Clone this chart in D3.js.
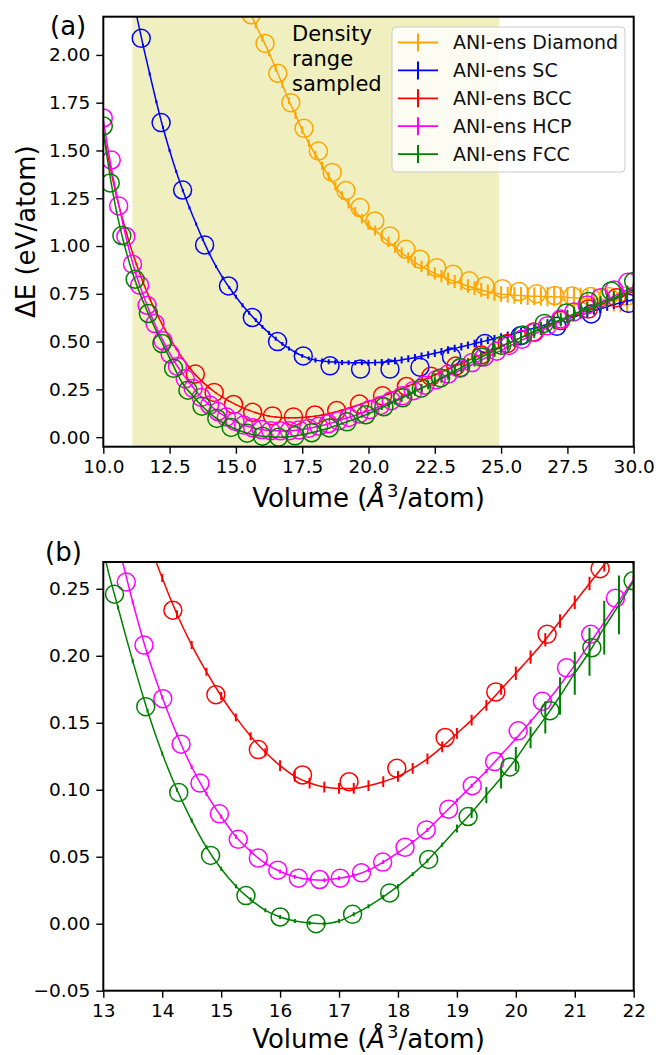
<!DOCTYPE html>
<html>
<head>
<meta charset="utf-8">
<script src="https://cdn.jsdelivr.net/npm/d3@7"></script>
<style>
  body { margin: 0; background: #fff; }
  svg { display: block; }
</style>
</head>
<body>
<div id="chart"></div>
<script>
// E(V) curves of carbon phases: ANI ensemble (line + error bars) vs reference (circles)

// volume grid of the ANI-ens predictions (A^3/atom)
const volumes = [10, 10.25, 10.5, 10.75, 11, 11.25, 11.5, 11.75, 12, 12.25, 12.5, 12.75,
  13, 13.25, 13.5, 13.75, 14, 14.25, 14.5, 14.75, 15, 15.25, 15.5, 15.75, 16, 16.25, 16.5, 16.75,
  17, 17.25, 17.5, 17.75, 18, 18.25, 18.5, 18.75, 19, 19.25, 19.5, 19.75, 20, 20.25, 20.5, 20.75,
  21, 21.25, 21.5, 21.75, 22, 22.25, 22.5, 22.75, 23, 23.25, 23.5, 23.75, 24, 24.25, 24.5, 24.75,
  25, 25.25, 25.5, 25.75, 26, 26.25, 26.5, 26.75, 27, 27.25, 27.5, 27.75, 28, 28.25, 28.5, 28.75,
  29, 29.25, 29.5, 29.75, 30];

// ANI-ens mean energies (eV/atom) on the grid above
const diamondEnergy = [null, null, null, null, null, null, null, null, null, null, null, null,
  null, null, null, null, 2.81, 2.70, 2.60, 2.50, 2.41, 2.32, 2.235, 2.155, 2.085, 2.01, 1.93, 1.845,
  1.76, 1.685, 1.607, 1.538, 1.478, 1.42, 1.365, 1.313, 1.265, 1.22, 1.18, 1.143, 1.11, 1.081, 1.052, 1.022,
  0.993, 0.965, 0.939, 0.915, 0.893, 0.874, 0.857, 0.842, 0.828, 0.815, 0.803, 0.791, 0.78, 0.77, 0.761, 0.754,
  0.749, 0.745, 0.742, 0.74, 0.738, 0.737, 0.736, 0.735, 0.734, 0.733, 0.731, 0.729, 0.727, 0.725, 0.723, 0.721,
  0.719, 0.717, 0.715, 0.713, 0.711];
const scEnergy = [3.20, 2.97, 2.75, 2.55, 2.37, 2.21, 2.05, 1.90, 1.755, 1.62, 1.50, 1.39,
  1.29, 1.20, 1.115, 1.035, 0.96, 0.893, 0.835, 0.783, 0.735, 0.69, 0.65, 0.612, 0.577, 0.545, 0.515, 0.488,
  0.464, 0.443, 0.425, 0.412, 0.403, 0.398, 0.395, 0.393, 0.391, 0.39, 0.389, 0.389, 0.389, 0.39, 0.392, 0.395,
  0.399, 0.404, 0.41, 0.417, 0.424, 0.431, 0.439, 0.447, 0.456, 0.464, 0.473, 0.481, 0.49, 0.498, 0.507, 0.515,
  0.524, 0.533, 0.542, 0.551, 0.561, 0.57, 0.58, 0.59, 0.60, 0.61, 0.62, 0.63, 0.641, 0.651, 0.662, 0.672,
  0.683, 0.693, 0.703, 0.712, 0.722];
const bccEnergy = [1.60, 1.42, 1.26, 1.13, 1.01, 0.905, 0.81, 0.725, 0.65, 0.582, 0.52, 0.462,
  0.41, 0.363, 0.322, 0.288, 0.258, 0.231, 0.208, 0.188, 0.17, 0.154, 0.14, 0.128, 0.118, 0.11, 0.105, 0.102,
  0.101, 0.101, 0.103, 0.106, 0.11, 0.116, 0.123, 0.132, 0.142, 0.152, 0.163, 0.175, 0.187, 0.199, 0.212, 0.226,
  0.24, 0.254, 0.268, 0.282, 0.296, 0.311, 0.326, 0.341, 0.356, 0.371, 0.386, 0.401, 0.416, 0.431, 0.446, 0.461,
  0.476, 0.491, 0.506, 0.521, 0.536, 0.551, 0.566, 0.58, 0.594, 0.608, 0.622, 0.636, 0.65, 0.664, 0.678, 0.692,
  0.706, 0.72, 0.734, 0.748, 0.762];
const hcpEnergy = [1.66, 1.45, 1.27, 1.11, 0.965, 0.845, 0.745, 0.655, 0.575, 0.505, 0.44, 0.38,
  0.33, 0.284, 0.24, 0.201, 0.169, 0.141, 0.117, 0.097, 0.08, 0.065, 0.054, 0.045, 0.039, 0.035, 0.033, 0.0325,
  0.034, 0.036, 0.04, 0.046, 0.053, 0.061, 0.07, 0.081, 0.092, 0.103, 0.114, 0.126, 0.138, 0.151, 0.164, 0.178,
  0.193, 0.209, 0.225, 0.241, 0.257, 0.273, 0.289, 0.305, 0.321, 0.337, 0.353, 0.369, 0.386, 0.403, 0.42, 0.437,
  0.454, 0.471, 0.488, 0.505, 0.522, 0.539, 0.556, 0.573, 0.59, 0.607, 0.624, 0.641, 0.658, 0.674, 0.69, 0.706,
  0.722, 0.738, 0.754, 0.77, 0.786];
const fccEnergy = [1.60, 1.37, 1.18, 1.03, 0.905, 0.80, 0.71, 0.63, 0.555, 0.485, 0.415, 0.343,
  0.279, 0.236, 0.196, 0.159, 0.127, 0.100, 0.077, 0.057, 0.041, 0.028, 0.018, 0.010, 0.005, 0.002, 0.0005, 0.0,
  0.002, 0.007, 0.013, 0.020, 0.028, 0.037, 0.047, 0.059, 0.071, 0.083, 0.096, 0.109, 0.123, 0.139, 0.154, 0.170,
  0.187, 0.203, 0.221, 0.238, 0.256, 0.274, 0.292, 0.31, 0.328, 0.346, 0.364, 0.382, 0.40, 0.418, 0.436, 0.454,
  0.472, 0.489, 0.505, 0.521, 0.537, 0.553, 0.569, 0.585, 0.60, 0.615, 0.63, 0.645, 0.659, 0.673, 0.687, 0.701,
  0.715, 0.729, 0.743, 0.757, 0.771];

// ensemble spread (eV/atom) on the same grid
const diamondErr = [null, null, null, null, null, null, null, null, null, null, null, null,
  null, null, null, null, 0.015, 0.015, 0.015, 0.015, 0.015, 0.015, 0.015, 0.015, 0.016, 0.017, 0.017, 0.018,
  0.018, 0.019, 0.019, 0.02, 0.02, 0.021, 0.021, 0.022, 0.022, 0.023, 0.024, 0.025, 0.025, 0.026, 0.027, 0.027,
  0.028, 0.028, 0.029, 0.03, 0.03, 0.031, 0.032, 0.032, 0.033, 0.034, 0.035, 0.035, 0.036, 0.037, 0.038, 0.04,
  0.041, 0.042, 0.044, 0.045, 0.046, 0.047, 0.048, 0.05, 0.051, 0.052, 0.053, 0.054, 0.055, 0.056, 0.057, 0.058,
  0.059, 0.06, 0.061, 0.062, 0.063];
const scErr = [0.008, 0.008, 0.008, 0.008, 0.008, 0.008, 0.008, 0.008, 0.008, 0.008, 0.008, 0.008,
  0.008, 0.008, 0.008, 0.008, 0.008, 0.008, 0.008, 0.008, 0.01, 0.01, 0.01, 0.01, 0.01, 0.01, 0.01, 0.01,
  0.01, 0.01, 0.01, 0.01, 0.013, 0.013, 0.013, 0.013, 0.013, 0.013, 0.013, 0.013, 0.016, 0.016, 0.017, 0.017,
  0.018, 0.018, 0.018, 0.018, 0.019, 0.019, 0.019, 0.019, 0.019, 0.019, 0.019, 0.019, 0.02, 0.02, 0.02, 0.02,
  0.02, 0.02, 0.02, 0.02, 0.021, 0.021, 0.021, 0.021, 0.021, 0.021, 0.021, 0.021, 0.022, 0.022, 0.022, 0.022,
  0.022, 0.022, 0.022, 0.022, 0.022];
const bccErr = [0.003, 0.003, 0.003, 0.003, 0.003, 0.003, 0.003, 0.003, 0.003, 0.003, 0.003, 0.003,
  0.003, 0.003, 0.003, 0.003, 0.003, 0.003, 0.003, 0.003, 0.003, 0.003, 0.003, 0.003, 0.004, 0.004, 0.004, 0.004,
  0.004, 0.004, 0.004, 0.004, 0.004, 0.004, 0.004, 0.004, 0.004, 0.004, 0.004, 0.004, 0.005, 0.005, 0.005, 0.005,
  0.005, 0.005, 0.005, 0.005, 0.006, 0.007, 0.008, 0.009, 0.01, 0.011, 0.012, 0.013, 0.014, 0.015, 0.016, 0.017,
  0.018, 0.019, 0.02, 0.02, 0.021, 0.021, 0.021, 0.021, 0.021, 0.021, 0.021, 0.021, 0.022, 0.022, 0.022, 0.022,
  0.022, 0.022, 0.022, 0.022, 0.022];
const hcpErr = [0.0015, 0.0015, 0.0015, 0.0015, 0.0015, 0.0015, 0.0015, 0.0015, 0.0015, 0.0015, 0.0015, 0.0015,
  0.0015, 0.0015, 0.0015, 0.0015, 0.0015, 0.0015, 0.0015, 0.0015, 0.0015, 0.0015, 0.0015, 0.0015, 0.0015, 0.0015, 0.0015, 0.0015,
  0.0015, 0.0015, 0.0015, 0.0015, 0.0015, 0.0015, 0.0015, 0.0015, 0.0015, 0.0015, 0.0015, 0.0015, 0.0015, 0.0015, 0.0015, 0.0015,
  0.002, 0.002, 0.002, 0.002, 0.003, 0.003, 0.004, 0.004, 0.005, 0.005, 0.006, 0.006, 0.007, 0.007, 0.008, 0.008,
  0.009, 0.009, 0.01, 0.01, 0.01, 0.01, 0.01, 0.01, 0.011, 0.011, 0.011, 0.011, 0.011, 0.011, 0.011, 0.011,
  0.012, 0.012, 0.012, 0.012, 0.012];
const fccErr = [0.0015, 0.0015, 0.0015, 0.0015, 0.0015, 0.0015, 0.0015, 0.0015, 0.0015, 0.0015, 0.0015, 0.0015,
  0.0015, 0.0015, 0.0015, 0.0015, 0.0015, 0.0015, 0.0015, 0.0015, 0.0015, 0.0015, 0.0015, 0.0015, 0.0015, 0.0015, 0.0015, 0.0015,
  0.0015, 0.0015, 0.0015, 0.0015, 0.0015, 0.0015, 0.0015, 0.0015, 0.003, 0.004, 0.006, 0.008, 0.009, 0.008, 0.012, 0.014,
  0.016, 0.018, 0.02, 0.022, 0.022, 0.024, 0.025, 0.026, 0.027, 0.028, 0.029, 0.03, 0.031, 0.032, 0.033, 0.034,
  0.035, 0.035, 0.035, 0.035, 0.035, 0.035, 0.035, 0.035, 0.036, 0.036, 0.036, 0.036, 0.036, 0.036, 0.036, 0.036,
  0.036, 0.036, 0.036, 0.036, 0.036];

// reference points (circles)
const diamondRefV = [15.58, 16.10, 16.58, 17.07, 17.57, 18.11, 18.63, 19.15, 19.68, 20.24, 20.81, 21.41, 21.94,
  22.57, 23.19, 23.80, 24.39, 25.05, 25.68, 26.34, 27.02, 27.69, 28.37, 29.05, 29.75];
const diamondRefE = [2.21, 2.06, 1.904, 1.75, 1.616, 1.497, 1.385, 1.29, 1.201, 1.131, 1.053, 0.983, 0.931,
  0.887, 0.853, 0.818, 0.791, 0.777, 0.762, 0.75, 0.741, 0.738, 0.736, 0.736, 0.738];
const scRefV = [11.43, 12.18, 12.99, 13.82, 14.72, 15.62, 16.57, 17.54, 18.55, 19.70, 20.81, 21.94, 23.13,
  24.39, 25.72, 27.10, 28.40, 29.80];
const scRefE = [2.087, 1.646, 1.293, 1.006, 0.791, 0.626, 0.500, 0.425, 0.373, 0.356, 0.356, 0.366, 0.420,
  0.490, 0.530, 0.580, 0.645, 0.700];
const bccRefV = [13.47, 14.18, 14.91, 15.63, 16.38, 17.17, 17.98, 18.80, 19.66, 20.53, 21.43, 22.35, 23.29,
  24.25, 25.23, 26.23, 27.25, 28.29, 29.35];
const bccRefE = [0.330, 0.234, 0.171, 0.130, 0.111, 0.106, 0.116, 0.139, 0.173, 0.216, 0.265, 0.318, 0.372,
  0.430, 0.490, 0.550, 0.610, 0.670, 0.730];
const hcpRefV = [10.00, 10.30, 10.58, 10.85, 11.10, 11.37, 11.65, 11.95, 12.25, 12.52, 12.80, 13.09, 13.39,
  13.69, 14.01, 14.32, 14.64, 14.97, 15.29, 15.63, 15.96, 16.31, 16.67, 17.02, 17.38, 17.74, 18.12, 18.48,
  18.86, 19.26, 19.64, 20.04, 20.45, 20.86, 21.27, 21.69, 22.12, 22.55, 23.00, 23.45, 23.90, 24.36, 24.83,
  25.30, 25.78, 26.26, 26.75, 27.24, 27.74, 28.24, 28.75, 29.26, 29.78];
const hcpRefE = [1.670, 1.450, 1.210, 1.050, 0.905, 0.795, 0.690, 0.594, 0.505, 0.435, 0.370, 0.305, 0.255,
  0.208, 0.168, 0.134, 0.105, 0.082, 0.063, 0.049, 0.040, 0.034, 0.033, 0.034, 0.038, 0.046, 0.057, 0.070,
  0.0855, 0.103, 0.121, 0.144, 0.166, 0.191, 0.216, 0.243, 0.272, 0.300, 0.330, 0.360, 0.390, 0.420, 0.450,
  0.480, 0.512, 0.548, 0.583, 0.618, 0.655, 0.692, 0.730, 0.770, 0.810];
const fccRefV = [10.00, 10.26, 10.70, 11.20, 11.70, 12.21, 12.65, 13.19, 13.72, 14.28, 14.82, 15.42, 16.00,
  16.61, 17.23, 17.86, 18.52, 19.19, 19.90, 20.58, 21.29, 21.99, 22.72, 23.47, 24.24, 25.02, 25.82, 26.63,
  27.46, 28.30, 29.15, 30.00];
const fccRefE = [1.628, 1.330, 1.055, 0.826, 0.647, 0.490, 0.360, 0.246, 0.162, 0.098, 0.051, 0.021, 0.005,
  0.000, 0.007, 0.023, 0.048, 0.080, 0.117, 0.159, 0.206, 0.256, 0.310, 0.365, 0.420, 0.480, 0.535, 0.595,
  0.650, 0.710, 0.765, 0.815];

const seriesNames = ["ANI-ens Diamond", "ANI-ens SC", "ANI-ens BCC", "ANI-ens HCP", "ANI-ens FCC"];
const seriesColors = ["orange", "blue", "red", "magenta", "green"];
const densityRange = [11.1, 24.92];

// axis ticks
const topXTicks = [10, 12.5, 15, 17.5, 20, 22.5, 25, 27.5, 30];
const topYTicks = [0, 0.25, 0.5, 0.75, 1, 1.25, 1.5, 1.75, 2];
const bottomXTicks = [13, 14, 15, 16, 17, 18, 19, 20, 21, 22];
const bottomYTicks = [-0.05, 0, 0.05, 0.1, 0.15, 0.2, 0.25];

const series = [
  { energy: diamondEnergy, err: diamondErr, refV: diamondRefV, refE: diamondRefE },
  { energy: scEnergy, err: scErr, refV: scRefV, refE: scRefE },
  { energy: bccEnergy, err: bccErr, refV: bccRefV, refE: bccRefE },
  { energy: hcpEnergy, err: hcpErr, refV: hcpRefV, refE: hcpRefE },
  { energy: fccEnergy, err: fccErr, refV: fccRefV, refE: fccRefE }
].map((s, i) => ({ ...s, name: seriesNames[i], color: seriesColors[i] }));

const width = 658;
const height = 1055;
const FONT = "'DejaVu Sans', sans-serif";

const svg = d3.select("#chart")
  .append("svg")
  .attr("width", width)
  .attr("height", height)
  .attr("font-family", FONT);

function drawPanel(cfg) {
  const box = cfg.box;
  const x = d3.scaleLinear().domain(cfg.xDomain).range([box.left, box.right]);
  const y = d3.scaleLinear().domain(cfg.yDomain).range([box.bottom, box.top]);

  svg.append("clipPath").attr("id", "clip-" + cfg.id)
    .append("rect")
    .attr("x", box.left).attr("y", box.top)
    .attr("width", box.right - box.left).attr("height", box.bottom - box.top);

  const plot = svg.append("g").attr("clip-path", `url(#clip-${cfg.id})`);

  // sampled density band
  if (cfg.shade) {
    plot.append("rect")
      .attr("x", x(densityRange[0]))
      .attr("y", box.top)
      .attr("width", x(densityRange[1]) - x(densityRange[0]))
      .attr("height", box.bottom - box.top)
      .attr("fill", "#efefbf");
  }

  series.forEach(s => {
    const pts = volumes.map((v, i) => ({ v: v, e: s.energy[i], err: s.err[i] }))
      .filter(d => d.e != null);
    const refs = s.refV.map((v, i) => ({ v: v, e: s.refE[i] }));

    plot.append("g")
      .selectAll("circle")
      .data(refs)
      .join("circle")
      .attr("cx", d => x(d.v))
      .attr("cy", d => y(d.e))
      .attr("r", 9)
      .attr("fill", "none")
      .attr("stroke", s.color)
      .attr("stroke-width", 1.5);

    plot.append("g")
      .selectAll("line")
      .data(pts)
      .join("line")
      .attr("x1", d => x(d.v))
      .attr("x2", d => x(d.v))
      .attr("y1", d => y(d.e - d.err))
      .attr("y2", d => y(d.e + d.err))
      .attr("stroke", s.color)
      .attr("stroke-width", 2);

    plot.append("path")
      .datum(pts)
      .attr("fill", "none")
      .attr("stroke", s.color)
      .attr("stroke-width", 1.5)
      .attr("d", d3.line().x(d => x(d.v)).y(d => y(d.e)).curve(d3.curveMonotoneX));
  });

  // axes
  svg.append("g")
    .attr("transform", `translate(0,${box.bottom})`)
    .call(d3.axisBottom(x).tickValues(cfg.xTicks).tickFormat(cfg.xFormat)
      .tickSize(7).tickPadding(6).tickSizeOuter(0))
    .call(g => g.select(".domain").remove())
    .call(g => g.selectAll(".tick line").attr("stroke", "#000").attr("stroke-width", 1.4))
    .call(g => g.selectAll(".tick text").attr("fill", "#000")
      .attr("font-size", 18.5).attr("font-family", FONT));

  svg.append("g")
    .attr("transform", `translate(${box.left},0)`)
    .call(d3.axisLeft(y).tickValues(cfg.yTicks).tickFormat(d3.format(".2f"))
      .tickSize(7).tickPadding(6).tickSizeOuter(0))
    .call(g => g.select(".domain").remove())
    .call(g => g.selectAll(".tick line").attr("stroke", "#000").attr("stroke-width", 1.4))
    .call(g => g.selectAll(".tick text").attr("fill", "#000")
      .attr("font-size", 18.5).attr("font-family", FONT));

  // frame
  svg.append("rect")
    .attr("x", box.left).attr("y", box.top)
    .attr("width", box.right - box.left).attr("height", box.bottom - box.top)
    .attr("fill", "none")
    .attr("stroke", "#000")
    .attr("stroke-width", 2);

  // x label with italic angstrom and superscript
  const xl = svg.append("text")
    .attr("x", (box.left + box.right) / 2)
    .attr("y", cfg.xLabelY)
    .attr("text-anchor", "middle")
    .attr("font-size", 26)
    .attr("fill", "#000");
  xl.append("tspan").text("Volume (");
  xl.append("tspan").attr("font-style", "italic").text("Å");
  xl.append("tspan").attr("font-size", 18).attr("dx", 2).attr("dy", -10).text("3");
  xl.append("tspan").attr("dy", 10).text("/atom)");

  // panel tag
  svg.append("text")
    .attr("x", cfg.tagX)
    .attr("y", cfg.tagY)
    .attr("font-size", 26)
    .attr("fill", "#000")
    .text(cfg.tag);

  return { x, y };
}

drawPanel({
  id: "a", tag: "(a)", tagX: 50, tagY: 35,
  box: { left: 103.3, right: 633.7, top: 16.7, bottom: 446.7 },
  xDomain: [10, 30], yDomain: [-0.05, 2.2],
  xTicks: topXTicks, yTicks: topYTicks, xFormat: d3.format(".1f"),
  shade: true, xLabelY: 507
});

drawPanel({
  id: "b", tag: "(b)", tagX: 45, tagY: 561,
  box: { left: 103.3, right: 633.7, top: 562, bottom: 990.7 },
  xDomain: [13, 22], yDomain: [-0.05, 0.27],
  xTicks: bottomXTicks, yTicks: bottomYTicks, xFormat: d3.format("d"),
  shade: false, xLabelY: 1048
});

// y label of the upper panel
svg.append("text")
  .attr("transform", `translate(35,${(16.7 + 446.7) / 2}) rotate(-90)`)
  .attr("text-anchor", "middle")
  .attr("font-size", 26)
  .attr("fill", "#000")
  .text("ΔE (eV/atom)");

// annotation of the sampled band
const note = svg.append("text")
  .attr("x", 292)
  .attr("y", 41)
  .attr("font-size", 21)
  .attr("fill", "#000");
["Density", "range", "sampled"].forEach((w, i) => {
  note.append("tspan").attr("x", 292).attr("dy", i === 0 ? 0 : 25).text(w);
});

// legend
const legend = svg.append("g");
legend.append("rect")
  .attr("x", 392).attr("y", 27)
  .attr("width", 233).attr("height", 145)
  .attr("rx", 4)
  .attr("fill", "#fff")
  .attr("fill-opacity", 0.8)
  .attr("stroke", "#cccccc")
  .attr("stroke-width", 1);

legend.selectAll(".legend-item")
  .data(series)
  .join("g")
  .attr("class", "legend-item")
  .attr("transform", (d, i) => `translate(398, ${42.5 + i * 27.9})`)
  .call(g => {
    g.append("line")
      .attr("x1", 0).attr("x2", 40)
      .attr("stroke", d => d.color).attr("stroke-width", 1.8);
    g.append("line")
      .attr("x1", 20).attr("x2", 20).attr("y1", -9).attr("y2", 9)
      .attr("stroke", d => d.color).attr("stroke-width", 2);
    g.append("text")
      .attr("x", 55)
      .attr("dy", "0.36em")
      .attr("font-size", 19)
      .attr("fill", "#111")
      .text(d => d.name);
  });
</script>
</body>
</html>
